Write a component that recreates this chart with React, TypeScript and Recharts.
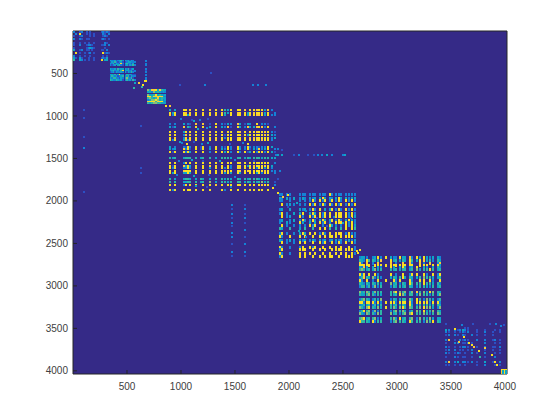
import { ScatterChart, Scatter, XAxis, YAxis, CartesianGrid } from 'recharts'

const TICKS = [500, 1000, 1500, 2000, 2500, 3000, 3500, 4000]
const X_MAX = 4019
const Y_MAX = 4037

// 0 = empty, then up the colormap
const LEVEL_COLORS = ['#352a87', '#2c50c4', '#1482d6', '#0ea5c6', '#2eb7a4', '#87bf77', '#fbc934', '#f9e020']

const block1Cols = [12, 31, 68, 83, 114, 130, 145, 160, 176, 191, 267, 282, 298, 314, 329]
const block1Rows = [12, 35, 62, 91, 141, 161, 200, 220, 259, 298, 318, 339]
const block1Grid = [
  '20 1201 0100 1 2121',
  '02 7001 0101 0 2102',
  '10 1200 0101 0 1210',
  '20 2101 1000 1 2101',
  '10 1010 1001 0 0210',
  '10 2001 2210 1 1202',
  '10 0001 2321 0 0100',
  '30 1201 1010 1 1020',
  '07 1010 1201 0 7121',
  '20 1010 0100 0 1010',
  '31 3100 1001 1 2130',
  '40 3210 1001 7 0330',
]

const block2Cols = [350, 364, 378, 392, 406, 420, 434, 448, 462, 490, 504, 518, 532, 546, 560, 574, 586, 678]
const block2Rows = [353, 370, 388, 406, 453, 471, 488, 518, 535, 553, 571]
const block2Grid = [
  '322312342 323132 00 2',
  '132421231 123322 20 0',
  '324132162 342213 00 2',
  '212303421 231324 20 2',
  '322314233 324123 00 2',
  '234223147 233231 20 1',
  '123132232 313242 00 2',
  '332413722 143321 10 2',
  '243231234 234132 20 0',
  '324422132 353241 00 2',
  '432243231 242314 20 2',
]

const block3Cols = [693, 712, 731, 750, 768, 787, 806, 825, 843, 855]
const block3Rows = [700, 718, 753, 771, 790, 812, 830, 848]
const block3Grid = [
  '5366736433',
  '3325343232',
  '5334734323',
  '7746677632',
  '4543463433',
  '2355753423',
  '6777467732',
  '4345544333',
]

const block4Cols = [901, 924, 947, 1026, 1049, 1067, 1086, 1142, 1188, 1206, 1271, 1327, 1382, 1410, 1438, 1466, 1531, 1549, 1595, 1623, 1641, 1678, 1706, 1725, 1752, 1780, 1808, 1845, 1868]
const block4Rows = [929, 961, 988, 1094, 1126, 1192, 1224, 1255, 1282, 1361, 1392, 1420, 1498, 1556, 1585, 1616, 1644, 1674, 1741, 1773, 1812, 1870]
const block4Grid = [
  '303 7706 707 67 7437 77 607 767736 20',
  '737 7607 706 77 6437 67 737 677637 02',
  '627 7736 707 76 7307 77 736 766737 22',
  '202 3021 606 17 2132 63 132 070221 00',
  '313 6042 707 37 3261 73 263 367627 02',
  '707 3707 707 67 7077 76 707 767767 21',
  '707 2606 707 77 7177 77 737 777767 32',
  '706 2707 706 77 7277 67 706 677777 23',
  '727 3626 707 76 7077 77 707 767677 20',
  '302 2172 717 27 2172 72 272 221227 30',
  '323 6271 717 37 3272 73 271 326237 02',
  '717 7273 707 27 7372 72 713 727727 31',
  '434 3444 434 43 4443 44 343 444344 33',
  '707 2707 707 77 7077 77 707 777777 02',
  '717 6373 707 67 7072 77 737 677767 30',
  '727 2272 707 37 7272 76 707 727737 20',
  '707 6777 707 77 7677 76 767 777767 22',
  '737 3373 707 67 6373 73 707 737277 02',
  '403 3443 343 34 4343 43 434 443434 00',
  '404 3344 434 53 4434 44 343 434534 01',
  '707 2707 707 76 7077 77 707 707677 02',
  '727 7077 707 70 7207 70 707 707707 00',
]

const block5Cols = [1913, 1935, 1981, 2012, 2043, 2105, 2126, 2151, 2197, 2222, 2243, 2290, 2315, 2336, 2376, 2398, 2438, 2460, 2482, 2531, 2556, 2583, 2607]
const block5Rows = [1918, 1961, 1988, 2039, 2094, 2145, 2173, 2224, 2251, 2282, 2321, 2380, 2408, 2459, 2486, 2538, 2568, 2615, 2647]
const block5Grid = [
  '22 220 222 222 222 72 222 222 2',
  '32 323 232 323 373 32 373 323 3',
  '22 020 202 272 727 27 272 727 2',
  '07 232 202 727 272 72 727 272 7',
  '23 030 323 272 703 37 272 727 2',
  '27 203 370 373 727 70 777 727 2',
  '07 230 720 727 727 70 777 727 3',
  '23 023 272 272 373 37 272 373 2',
  '20 320 730 303 727 20 777 727 2',
  '07 202 202 727 020 73 202 727 3',
  '43 040 304 040 707 40 404 707 4',
  '27 202 373 707 272 70 777 272 2',
  '72 070 707 070 707 77 707 777 2',
  '32 232 323 232 323 23 323 232 3',
  '07 202 707 070 727 07 272 707 2',
  '72 020 270 727 070 70 707 070 2',
  '27 000 777 070 707 07 777 777 2',
  '72 020 707 707 070 70 707 707 2',
  '27 000 707 070 707 77 070 777 0',
]

const block6Cols = [2654, 2676, 2697, 2722, 2737, 2778, 2799, 2820, 2852, 2901, 2944, 2969, 2994, 3031, 3056, 3077, 3117, 3139, 3185, 3210, 3253, 3278, 3308, 3333, 3380, 3401]
const block6Rows = [2663, 2694, 2726, 2753, 2780, 2804, 2859, 2898, 2929, 2968, 3000, 3067, 3094, 3156, 3185, 3224, 3251, 3291, 3321, 3380, 3412]
const block6Grid = [
  '23 320 237 2 7 322 733 62 73 73 23 32',
  '43 274 434 6 0 734 343 74 37 63 42 43',
  '62 060 206 0 0 602 060 62 06 20 60 26',
  '77 777 077 7 7 777 777 77 07 77 07 73',
  '32 630 303 2 0 730 373 23 70 32 03 42',
  '45 434 353 4 0 434 344 34 53 44 74 34',
  '72 707 072 0 0 702 070 27 70 72 07 27',
  '24 643 524 2 0 343 473 43 34 54 43 34',
  '72 070 207 0 7 072 700 72 07 70 72 07',
  '43 243 434 3 0 534 243 74 44 74 43 42',
  '24 424 252 4 0 243 434 43 24 43 24 34',
  '53 454 354 4 0 457 545 35 64 53 75 43',
  '43 345 424 3 0 434 753 44 35 44 24 35',
  '24 543 243 5 0 243 344 53 74 25 43 24',
  '77 277 727 2 7 772 777 72 77 77 27 72',
  '23 434 243 4 0 434 343 73 24 44 34 43',
  '54 257 435 3 7 453 574 54 45 75 53 25',
  '24 745 252 4 0 245 453 24 54 73 45 43',
  '53 254 425 4 0 534 245 57 44 54 24 54',
  '45 734 452 3 0 453 734 45 25 43 53 33',
  '74 443 724 4 0 245 443 74 44 25 47 43',
]

const block7Cols = [3457, 3478, 3540, 3561, 3586, 3607, 3632, 3654, 3694, 3741, 3818, 3889, 3910, 3956]
const block7Rows = [3491, 3518, 3545, 3576, 3635, 3674, 3714, 3753, 3792, 3832, 3891, 3929]
const block7Grid = [
  '00 0000 1100 0 0 0 0',
  '32 2123 2101 1 0 1 1',
  '21 1012 1201 2 1 0 1',
  '12 2102 1021 1 1 0 0',
  '23 1021 2102 2 1 2 1',
  '10 2201 1210 2 0 1 1',
  '21 1012 2101 2 1 1 2',
  '12 2011 0120 1 1 0 1',
  '21 1210 1021 2 0 1 1',
  '10 2101 1010 1 0 2 0',
  '23 2302 2121 3 1 2 2',
  '11 1010 1001 2 0 1 1',
]

const cornerCols = [3970, 3985, 4000, 4012]
const cornerRows = [3985, 4000, 4012, 4028]
const cornerGrid = ['7777', '7373', '7363', '6373']

// loose entries off the blocks: x, y, level
const strayPoints = [
  [669, 588, 7], [678, 588, 7], [614, 612, 6], [639, 655, 4], [577, 608, 3], [568, 667, 4], [650, 630, 7],
  [864, 882, 7], [894, 882, 6], [1855, 1847, 7], [1900, 1906, 7], [1947, 1953, 6], [1994, 1929, 7], [2640, 2615, 7], [2630, 2590, 7], [2660, 2580, 7],
  [105, 929, 1], [105, 1024, 1], [105, 1247, 1], [105, 1376, 2], [105, 1894, 1], [632, 1118, 1], [632, 1612, 1], [632, 1671, 1],
  [994, 639, 1], [1225, 639, 2], [1670, 639, 2], [1716, 639, 2], [1790, 639, 2], [1280, 500, 1],
  [1880, 1465, 2], [1900, 1465, 3], [1940, 1465, 3], [2050, 1465, 1], [2090, 1465, 2], [2180, 1465, 1], [2230, 1465, 1], [2270, 1465, 2], [2310, 1465, 2], [2350, 1465, 3], [2400, 1465, 2], [2500, 1465, 2], [2520, 1465, 3],
  [1475, 2050, 2], [1475, 2100, 1], [1475, 2150, 2], [1475, 2200, 1], [1475, 2260, 2], [1475, 2300, 1], [1475, 2380, 2], [1475, 2430, 2], [1475, 2510, 1], [1475, 2600, 2], [1475, 2650, 1],
  [1590, 2050, 1], [1590, 2100, 2], [1590, 2150, 1], [1590, 2200, 2], [1590, 2260, 1], [1590, 2340, 2], [1590, 2430, 1], [1590, 2510, 2], [1590, 2600, 2], [1590, 2650, 1],
  [1000, 1040, 2], [1100, 1050, 1], [1120, 1060, 3], [1180, 1045, 2], [1250, 1030, 1], [1160, 1150, 3], [1240, 1140, 2], [990, 1310, 3], [1010, 1320, 2], [1060, 1330, 7], [1120, 1310, 1], [1190, 1330, 2], [1250, 1320, 3], [1450, 1330, 1], [1570, 1320, 2], [1620, 1330, 7],
  [980, 1530, 2], [1100, 1520, 3], [1200, 1530, 1], [1360, 1525, 3], [1500, 1520, 2], [1680, 1530, 1], [960, 1700, 2], [1120, 1710, 3], [1260, 1700, 1], [1500, 1720, 2], [1140, 1830, 3], [1240, 1840, 1], [1460, 1835, 2], [1900, 1390, 2], [1940, 1400, 1], [1920, 1650, 2], [1900, 1740, 1],
  [1990, 2070, 1], [2070, 2030, 3], [2160, 2120, 2], [2260, 2200, 1], [2090, 2350, 3], [2160, 2430, 2], [2350, 2300, 1], [2420, 2190, 2], [2500, 2260, 3], [2570, 2200, 1],
  [3663, 3674, 7], [3694, 3694, 7], [3709, 3721, 6], [3756, 3765, 7], [3818, 3733, 6], [3880, 3812, 7], [3910, 3891, 7], [3926, 3929, 7], [3478, 3635, 6], [3478, 3891, 6], [3575, 3660, 6], [3620, 3600, 7], [3540, 3510, 7], [3770, 3840, 4],
  [3450, 3450, 1], [3600, 3455, 2], [3700, 3450, 1], [3860, 3445, 1], [3920, 3450, 2], [3960, 3470, 2], [3990, 3460, 1],
]

// blocks 5 and 6 read as longer dashes than the others
const blocks = [
  { cols: block1Cols, rows: block1Rows, grid: block1Grid, cellH: 2 },
  { cols: block2Cols, rows: block2Rows, grid: block2Grid, cellH: 2 },
  { cols: block3Cols, rows: block3Rows, grid: block3Grid, cellH: 2 },
  { cols: block4Cols, rows: block4Rows, grid: block4Grid, cellH: 2 },
  { cols: block5Cols, rows: block5Rows, grid: block5Grid, cellH: 3 },
  { cols: block6Cols, rows: block6Rows, grid: block6Grid, cellH: 3 },
  { cols: block7Cols, rows: block7Rows, grid: block7Grid, cellH: 2 },
  { cols: cornerCols, rows: cornerRows, grid: cornerGrid, cellH: 2 },
]

const cells: { x: number; y: number; level: number; cellH: number }[] = []
blocks.forEach(({ cols, rows, grid, cellH }) => {
  grid.forEach((line, r) => {
    line.replace(/ /g, '').split('').forEach((ch, c) => {
      if (ch !== '0' && cols[c] !== undefined) cells.push({ x: cols[c], y: rows[r], level: Number(ch), cellH })
    })
  })
})
strayPoints.forEach(([x, y, level]) => cells.push({ x, y, level, cellH: 2 }))

function MatrixCell(props: any) {
  const { cx, cy, payload } = props
  if (cx == null || cy == null) return null
  return (
    <rect
      x={Math.round(cx - 1)}
      y={Math.round(cy - 1)}
      width={2}
      height={payload.cellH}
      fill={LEVEL_COLORS[payload.level]}
      shapeRendering="crispEdges"
    />
  )
}

const tickStyle = { fontSize: 10, fill: '#404040', fontFamily: '"Liberation Sans", Arial, sans-serif' }
const axisLine = { stroke: '#262626', strokeWidth: 1 }

export default function App() {
  return (
    <div style={{ position: 'absolute', left: 0, top: 0, width: 560, height: 420, background: '#fff' }}>
      <ScatterChart width={560} height={420} margin={{ top: 30, right: 52, bottom: 45, left: 72 }}>
        <CartesianGrid horizontal={false} vertical={false} fill={LEVEL_COLORS[0]} fillOpacity={1} />
        <XAxis
          type="number"
          dataKey="x"
          domain={[0, X_MAX]}
          ticks={TICKS}
          height={1}
          tick={tickStyle}
          tickSize={-4}
          tickMargin={13}
          axisLine={axisLine}
          tickLine={axisLine}
          interval={0}
        />
        <XAxis
          xAxisId="top"
          orientation="top"
          type="number"
          domain={[0, X_MAX]}
          ticks={TICKS}
          height={1}
          tick={false}
          tickSize={-4}
          axisLine={axisLine}
          tickLine={axisLine}
        />
        <YAxis
          type="number"
          dataKey="y"
          reversed
          domain={[0, Y_MAX]}
          ticks={TICKS}
          width={1}
          tick={tickStyle}
          tickSize={-4}
          tickMargin={9}
          axisLine={axisLine}
          tickLine={axisLine}
          interval={0}
        />
        <YAxis
          yAxisId="right"
          orientation="right"
          type="number"
          reversed
          domain={[0, Y_MAX]}
          ticks={TICKS}
          width={1}
          tick={false}
          tickSize={-4}
          axisLine={axisLine}
          tickLine={axisLine}
        />
        <Scatter data={cells} shape={MatrixCell} isAnimationActive={false} />
      </ScatterChart>
    </div>
  )
}
